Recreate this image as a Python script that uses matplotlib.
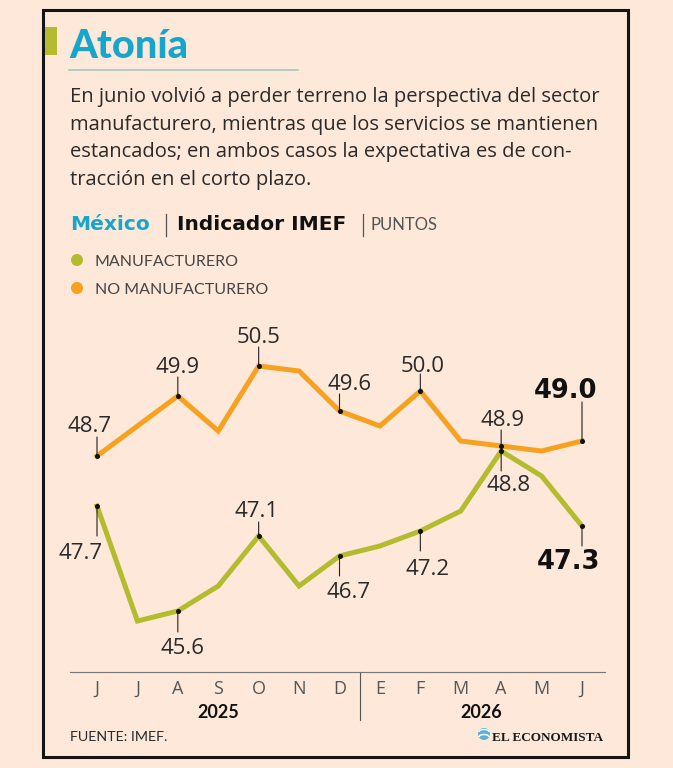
import matplotlib.pyplot as plt
import matplotlib.transforms as mtransforms
from matplotlib.patches import Circle, Rectangle, Arc

plt.rcParams["font.family"] = ["Lato", "DejaVu Sans"]

# Datos (puntos, índice IMEF)
months = ["J", "J", "A", "S", "O", "N", "D", "E", "F", "M", "A", "M", "J"]
years = ["2025", "2026"]
no_manuf = [48.7, 49.3, 49.9, 49.2, 50.5, 50.4, 49.6, 49.3, 50.0, 49.0, 48.9, 48.8, 49.0]
manuf = [47.7, 45.4, 45.6, 46.1, 47.1, 46.1, 46.7, 46.9, 47.2, 47.6, 48.8, 48.3, 47.3]

body_lines = [
    "En junio volvió a perder terreno la perspectiva del sector",
    "manufacturero, mientras que los servicios se mantienen",
    "estancados; en ambos casos la expectativa es de con-",
    "tracción en el corto plazo.",
]

BG = "#FDE8D9"
ORANGE = "#F6A11F"
GREEN = "#B4BB2E"
BLUE = "#17A6CB"
TXT = "#2a2a2a"
W, H = 673, 768
K = 0.72  # px -> points at dpi 100
BODY_FONT = ["Open Sans", "DejaVu Sans"]
HEAVY_FONT = ["DejaVu Sans"]

# label placement: index -> (dx, dy, leader length) in image pixels (dy > 0 = below)
orange_place = {0: (-7, -32, 19), 2: (0, -31, 19), 4: (0, -31, 19), 6: (10, -29, 17),
                8: (2, -27, 17), 10: (1, -28, 16), 12: (-16, -52, 39)}
green_place = {0: (-16, 45, 30), 2: (5, 35, 21), 4: (-2, -27, 14), 6: (9, 34, 20),
               8: (7, 36, 20), 10: (7, 32, 20), 12: (-14, 34, 20)}

fig = plt.figure(figsize=(W / 100, H / 100), dpi=100, facecolor=BG)

# background / decoration layer in pixel coordinates
bg = fig.add_axes([0, 0, 1, 1], zorder=0)
bg.set_xlim(0, W)
bg.set_ylim(H, 0)
bg.axis("off")
bg.add_patch(Rectangle((43, 10), 585, 747, fill=False, lw=2.2, ec="#151515"))
bg.add_patch(Rectangle((45, 27), 12, 28, color=GREEN, lw=0))
bg.text(69, 58, "Atonía", fontsize=28.5, fontweight="black", color=BLUE, va="baseline")
bg.plot([69, 298], [70, 70], color="#A9C6C3", lw=1.2)
for i, line in enumerate(body_lines):
    bg.text(70, 102 + i * 27.7, line, fontsize=14.5, family=BODY_FONT, color=TXT, va="baseline")

# subtitle: México | Indicador IMEF | PUNTOS
bg.text(70, 230, "México", fontsize=14.5, fontweight="bold", family=HEAVY_FONT, color=BLUE,
        va="baseline")
bg.text(177, 230, "Indicador IMEF", fontsize=14.5, fontweight="bold", family=HEAVY_FONT,
        color="#111", va="baseline")
bg.text(370, 230, "PUNTOS", fontsize=12, color="#555", va="baseline")
for px in (166, 363):
    bg.plot([px, px], [214, 236], color="#555", lw=0.9)

for yy, lab, col in [(260, "MANUFACTURERO", GREEN), (288, "NO MANUFACTURERO", ORANGE)]:
    bg.add_patch(Circle((77, yy), 6, color=col, lw=0))
    bg.text(95, yy + 6.5, lab, fontsize=11.5, color="#444", va="baseline")

bg.text(70, 741, "FUENTE: IMEF.", fontsize=10.3, color=TXT, va="baseline")
bg.text(603, 741, "EL ECONOMISTA", fontsize=9.5, fontweight="bold", color="#1a1a1a",
        family="Liberation Serif", ha="right", va="baseline")
bg.add_patch(Circle((484, 734), 6, color="#5AB3D5", lw=0))
bg.add_patch(Arc((484, 737), 10, 5, theta1=180, theta2=360, color="white", lw=1.1))
bg.add_patch(Arc((484, 732), 10, 5, theta1=180, theta2=360, color="white", lw=0.9))

# chart axes
left, right, top, base = 70, 605, 300, 672
ax = fig.add_axes([left / W, 1 - base / H, (right - left) / W, (base - top) / H], zorder=2)
ax.patch.set_alpha(0)
ppu_x = (582 - 97) / 12
ax.set_xlim(-(97 - left) / ppu_x, 12 + (right - 582) / ppu_x)
ppu_y = 50.0
ax.set_ylim(50.5 - (base - 366) / ppu_y, 50.5 + (366 - top) / ppu_y)

x = list(range(len(months)))
ax.plot(x, no_manuf, color=ORANGE, lw=3.6, solid_joinstyle="miter", zorder=2)
ax.plot(x, manuf, color=GREEN, lw=3.6, solid_joinstyle="miter", zorder=3)


def label_points(values, place):
    for i, (dx, dy, leader) in place.items():
        v = values[i]
        last = i == len(values) - 1
        sgn = 1 if dy > 0 else -1
        ax.annotate("", xy=(i, v), xytext=(0, -sgn * leader * K), textcoords="offset points",
                    arrowprops=dict(arrowstyle="-", color="#222", lw=0.8, shrinkA=0, shrinkB=0),
                    zorder=4)
        ax.plot(i, v, "o", ms=2.6, color="#111", zorder=5)
        cap = 9 if last else 8
        if last:
            style = dict(fontsize=18.5, fontweight="bold", family=HEAVY_FONT, color="#111")
        else:
            style = dict(fontsize=16, family=BODY_FONT, color=TXT)
        ax.annotate(f"{v:.1f}", xy=(i, v), xytext=(dx * K, -(dy + cap) * K),
                    textcoords="offset points", ha="center", va="baseline", zorder=6, **style)


label_points(no_manuf, orange_place)
label_points(manuf, green_place)

ax.set_yticks([])
ax.set_xticks(x)
ax.set_xticklabels(months)
ax.tick_params(axis="x", length=0, pad=5.5, labelsize=13, labelcolor="#555")
for lab in ax.get_xticklabels():
    lab.set_family(BODY_FONT)
for s in ["top", "left", "right"]:
    ax.spines[s].set_visible(False)
ax.spines["bottom"].set_color("#777")
ax.spines["bottom"].set_linewidth(0.8)

trans = mtransforms.blended_transform_factory(ax.transData, ax.transAxes)
axh = base - top
ax.plot([6.5, 6.5], [0, -(720 - base) / axh], transform=trans, clip_on=False, color="#555", lw=0.8)
for xc, yr in zip([3, 9.5], years):
    ax.text(xc, -(718 - base) / axh, yr, transform=trans, ha="center", va="baseline",
            fontsize=13, fontweight="bold", color="#111")

fig.savefig("out.png", dpi=100, facecolor=BG)
